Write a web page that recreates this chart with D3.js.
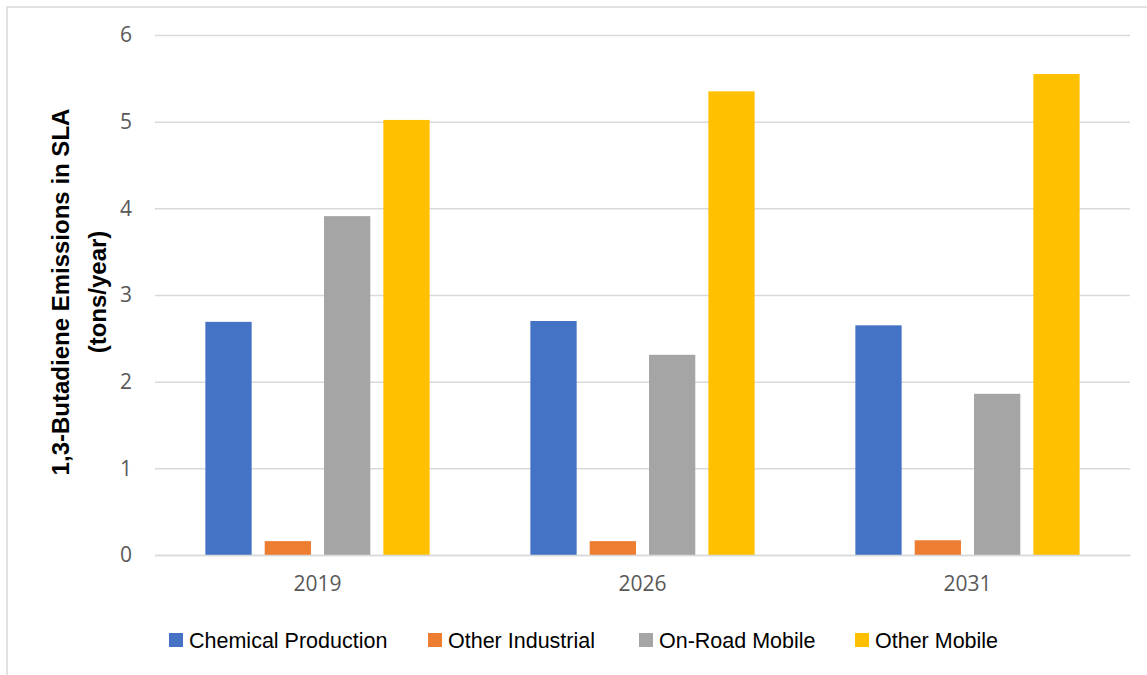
<!DOCTYPE html>
<html>
<head>
<meta charset="utf-8">
<style>
	body { margin: 0; background: #fff; }
	text { font-family: "Liberation Sans", "DejaVu Sans", sans-serif; }
</style>
</head>
<body>
<div id="chart"></div>
<script src="https://cdn.jsdelivr.net/npm/d3@7"></script>
<script>
	// data
	var years = ['2019', '2026', '2031'];
	var seriesNames = ['Chemical Production', 'Other Industrial', 'On-Road Mobile', 'Other Mobile'];
	var chemicalProduction = [2.69, 2.70, 2.65];
	var otherIndustrial = [0.16, 0.16, 0.17];
	var onRoadMobile = [3.91, 2.31, 1.86];
	var otherMobile = [5.02, 5.35, 5.55];
	var yTicks = [0, 1, 2, 3, 4, 5, 6];
	var colors = ['#4472C4', '#ED7D31', '#A5A5A5', '#FFC000'];

	var seriesValues = [chemicalProduction, otherIndustrial, onRoadMobile, otherMobile];
	var rows = years.map((y, i) => ({
		year: y,
		values: seriesNames.map((s, j) => ({ key: s, value: seriesValues[j][i] }))
	}));

	var W = 1147, H = 675;
	var margin = { left: 155, top: 35, right: 17, bottom: 120 };
	var width = W - margin.left - margin.right,
		height = H - margin.top - margin.bottom;

	var root = d3.select('#chart').append('svg')
		.attr('width', W)
		.attr('height', H);

	// outer chart frame
	root.append('rect')
		.attr('x', 7).attr('y', 7)
		.attr('width', W + 20).attr('height', H + 20)
		.attr('fill', 'none')
		.attr('stroke', '#d9d9d9')
		.attr('stroke-width', 1.5);

	var svg = root.append('g')
		.attr('transform', 'translate(' + [margin.left, margin.top] + ')');

	var x0 = d3.scaleBand()
		.domain(years)
		.range([0, width])
		.paddingInner(0.31)
		.paddingOuter(0.155);
	var x1 = d3.scaleBand()
		.domain(seriesNames)
		.range([0, x0.bandwidth()])
		.paddingInner(0.22);
	var y = d3.scaleLinear()
		.domain([0, 6])
		.range([height, 0]);

	// gridlines
	svg.append('g')
		.call(d3.axisLeft(y).tickValues(yTicks).tickSize(-width).tickFormat(''))
		.call(g => {
			g.select('.domain').remove();
			g.selectAll('line').attr('stroke', '#d9d9d9').attr('stroke-width', 1.5);
		});

	// y tick labels
	svg.append('g')
		.call(d3.axisLeft(y).tickValues(yTicks).tickFormat(d3.format('d')).tickSize(0).tickPadding(23))
		.call(g => {
			g.select('.domain').remove();
			g.selectAll('text')
				.attr('fill', '#595959')
				.attr('font-size', 21)
				.style('font-family', '"Open Sans", sans-serif');
		});

	// bars
	var groups = svg.selectAll('g.group')
		.data(rows)
		.enter().append('g')
		.attr('class', 'group')
		.attr('transform', d => 'translate(' + x0(d.year) + ',0)');
	groups.selectAll('rect')
		.data(d => d.values)
		.enter().append('rect')
		.attr('x', d => x1(d.key))
		.attr('width', x1.bandwidth())
		.attr('y', d => y(d.value))
		.attr('height', d => height - y(d.value))
		.attr('fill', (d, i) => colors[i]);

	// x axis (baseline + labels)
	svg.append('g')
		.attr('transform', 'translate(0,' + height + ')')
		.call(d3.axisBottom(x0).tickSize(0).tickPadding(21).tickSizeOuter(0))
		.call(g => {
			g.select('.domain').attr('stroke', '#d9d9d9').attr('stroke-width', 1.5);
			g.selectAll('text')
				.attr('fill', '#595959')
				.attr('font-size', 21)
				.style('font-family', '"Open Sans", sans-serif');
		});

	// y axis title
	var title = root.append('text')
		.attr('transform', 'translate(' + 69 + ',' + 292 + ') rotate(-90)')
		.attr('text-anchor', 'middle')
		.attr('font-weight', 'bold')
		.attr('font-size', 24)
		.attr('fill', '#000');
	title.append('tspan')
		.attr('x', 0).attr('y', 0)
		.text('1,3-Butadiene Emissions in SLA');
	title.append('tspan')
		.attr('x', 0).attr('y', 37)
		.text('(tons/year)');

	// legend
	var legendX = [169, 428, 639, 855];
	var legend = root.selectAll('g.legendItem')
		.data(seriesNames)
		.enter().append('g')
		.attr('class', 'legendItem')
		.attr('transform', (d, i) => 'translate(' + legendX[i] + ',633)');
	legend.append('rect')
		.attr('width', 14)
		.attr('height', 14)
		.attr('fill', (d, i) => colors[i]);
	legend.append('text')
		.attr('x', 20)
		.attr('y', 14.5)
		.attr('font-size', 21.5)
		.attr('fill', '#000')
		.text(d => d);
</script>
</body>
</html>
